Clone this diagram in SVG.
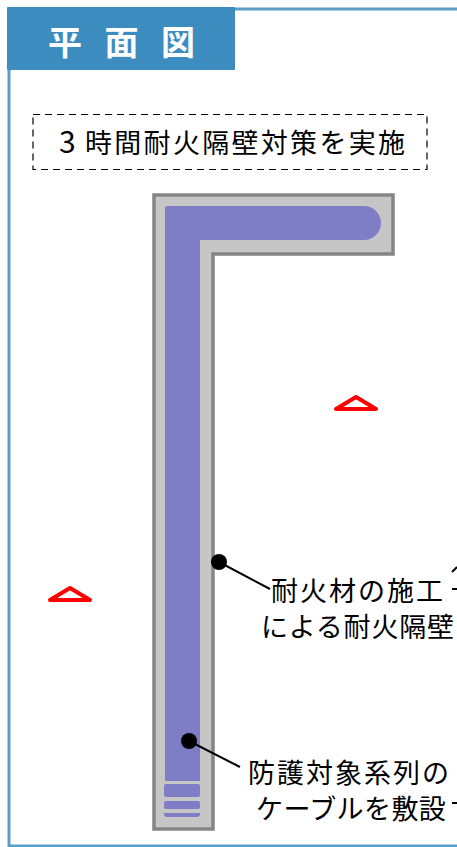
<svg xmlns="http://www.w3.org/2000/svg" width="457" height="847" viewBox="0 0 457 847">
<style>
.jp{font-family:"Noto Sans CJK JP","Noto Sans CJK SC",sans-serif;font-size:27px;fill:#000;letter-spacing:2px}
.tri{fill:none;stroke:#f00;stroke-width:4;stroke-linejoin:round}
.lead{stroke:#000;stroke-width:2;fill:none}
.cab{fill:#7f7dc6}
</style>
<rect width="457" height="847" fill="#fff"/>
<g id="frame"><path d="M457 9H9V846H457" fill="none" stroke="#5b9fc9" stroke-width="3"/></g>
<g id="title"><rect x="7" y="7" width="228" height="63" rx="1" fill="#3d8cbf"/>
<text x="48" y="55" font-family="'Noto Sans CJK JP',sans-serif" font-size="34" font-weight="700" fill="#fff" letter-spacing="22.500">平面図</text></g>
<g id="note"><rect x="33" y="114.500" width="394" height="55" fill="none" stroke="#000" stroke-width="1.200" stroke-dasharray="7 5"/>
<text class="jp" y="153"><tspan x="59" font-size="30">3</tspan><tspan x="85" style="letter-spacing:2.300px">時間耐火隔壁対策を実施</tspan></text></g>
<g id="wall"><path d="M154 195H393V254H213V829H154Z" fill="#c6c6c6" stroke="#858585" stroke-width="3.500"/></g>
<g id="cable"><path class="cab" d="M165 208Q165 206 167 206H364A17 17 0 0 1 364 240H200V781H165Z"/>
<rect class="cab" x="164" y="784" width="36" height="13" rx="2"/>
<rect class="cab" x="164" y="801" width="36" height="8" rx="2"/>
<path class="cab" d="M164 813H200V814Q200 817 197 817H167Q164 817 164 814Z"/></g>
<g id="section-marks"><path class="tri" d="M356 397L376 409H336Z"/><path class="tri" d="M70 588L90 600H50Z"/></g>
<g id="connectors"><path class="lead" d="M219 562L270 589"/><path class="lead" d="M189 741L240 767"/><path class="lead" d="M457 567L452 572"/></g>
<g id="dot-fire"><circle cx="219" cy="562" r="8"/></g>
<g id="dot-cable"><circle cx="189" cy="741" r="8"/></g>
<g id="label-fire"><text class="jp" x="271" y="601">耐火材の施工</text><text class="jp" x="261" y="637" style="letter-spacing:.8px">による耐火隔壁</text>
<path class="lead" d="M452 589H457"/></g>
<g id="label-cable"><text class="jp" x="248" y="783">防護対象系列の</text><text class="jp" x="256" y="819" style="letter-spacing:.4px">ケーブルを敷設</text>
<path class="lead" d="M452 803H457"/></g>
</svg>
